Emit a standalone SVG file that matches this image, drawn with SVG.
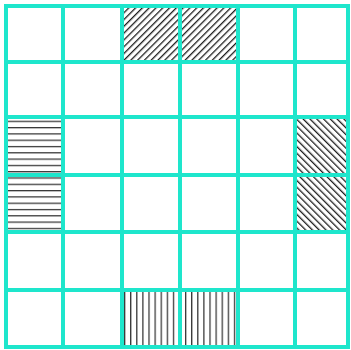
<svg xmlns="http://www.w3.org/2000/svg" width="351" height="350" viewBox="0 0 351 350">
<style>
.grid{stroke:#1ee6cc;stroke-width:4;fill:none;stroke-linecap:square}
.hb{stroke:#2a2a2a;stroke-width:1.2;}
</style>
<defs>
<pattern id="diagF" patternUnits="userSpaceOnUse" width="4.8" height="4.8" patternTransform="rotate(45)">
<rect width="4.8" height="4.8" fill="#fff"/>
<line x1="0" y1="0" x2="0" y2="4.8" stroke="#1e1e1e" stroke-width="2.6"/>
</pattern>
<pattern id="diagB" patternUnits="userSpaceOnUse" width="4.8" height="4.8" patternTransform="rotate(-45)">
<rect width="4.8" height="4.8" fill="#fff"/>
<line x1="0" y1="0" x2="0" y2="4.8" stroke="#1e1e1e" stroke-width="2.6"/>
</pattern>
<pattern id="horiz" patternUnits="userSpaceOnUse" width="10" height="6.3" y="1">
<rect width="10" height="6.3" fill="#fff"/>
<line x1="0" y1="0.5" x2="10" y2="0.5" stroke="#333" stroke-width="1.5"/>
</pattern>
<pattern id="vert" patternUnits="userSpaceOnUse" width="6.1" height="10" x="2">
<rect width="6.1" height="10" fill="#fff"/>
<line x1="0.5" y1="0" x2="0.5" y2="10" stroke="#333" stroke-width="1.5"/>
</pattern>
</defs>
<rect width="351" height="350" fill="#fff"/>
<g id="hatch-top">
<rect x="122" y="6" width="116" height="56" fill="url(#diagF)" class="hb"/>
</g>
<g id="hatch-right">
<rect x="295" y="117" width="53" height="115" fill="url(#diagB)" class="hb"/>
</g>
<g id="hatch-left">
<rect x="6" y="117" width="57" height="115" fill="url(#horiz)" class="hb"/>
</g>
<g id="hatch-bottom">
<rect x="122" y="290" width="116" height="57" fill="url(#vert)" class="hb"/>
</g>
<g id="grid" class="grid">
<line x1="6" y1="6" x2="6" y2="347"/>
<line x1="63" y1="6" x2="63" y2="347"/>
<line x1="122" y1="6" x2="122" y2="347"/>
<line x1="180" y1="6" x2="180" y2="347"/>
<line x1="238" y1="6" x2="238" y2="347"/>
<line x1="295" y1="6" x2="295" y2="347"/>
<line x1="348" y1="6" x2="348" y2="347"/>
<line x1="6" y1="6" x2="348" y2="6"/>
<line x1="6" y1="62" x2="348" y2="62"/>
<line x1="6" y1="117" x2="348" y2="117"/>
<line x1="6" y1="175" x2="348" y2="175"/>
<line x1="6" y1="232" x2="348" y2="232"/>
<line x1="6" y1="290" x2="348" y2="290"/>
<line x1="6" y1="347" x2="348" y2="347"/>
</g>
</svg>
